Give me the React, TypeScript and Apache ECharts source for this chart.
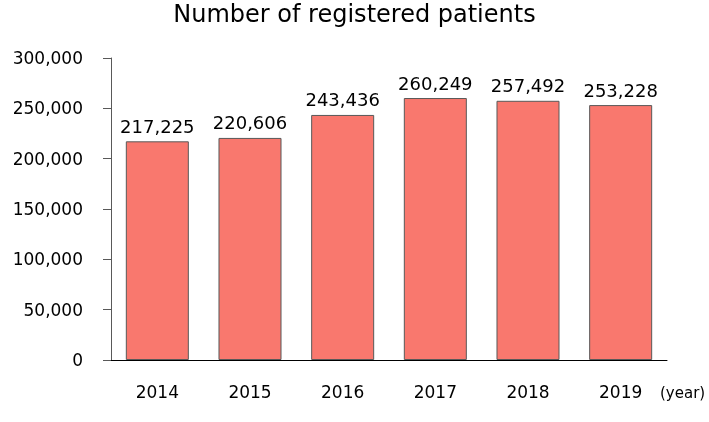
import React, { useEffect, useRef } from "react";
import * as echarts from "echarts";

const years = ["2014", "2015", "2016", "2017", "2018", "2019"];
const patients = [217225, 220606, 243436, 260249, 257492, 253228];
const yTicks = { min: 0, max: 300000, interval: 50000 };

const FONT = "'DejaVu Sans', 'Noto Sans', sans-serif";

export default function App() {
  const ref = useRef<HTMLDivElement>(null);
  useEffect(() => {
    const chart = echarts.init(ref.current!, null, { renderer: "svg" });
    chart.setOption({
      animation: false,
      textStyle: { fontFamily: FONT },
      title: {
        text: "Number of registered patients",
        left: "center",
        top: 2,
        padding: [0, 5, 0, 5],
        textStyle: { fontFamily: FONT, fontSize: 24, lineHeight: 24, fontWeight: "normal", color: "#000" },
      },
      grid: { left: 111, right: 42, top: 58, bottom: 62 },
      xAxis: {
        type: "category",
        data: years,
        axisLine: { lineStyle: { color: "#000", width: 1 } },
        axisTick: { show: false },
        axisLabel: { color: "#000", fontSize: 17, margin: 23, fontFamily: FONT },
        name: "(year)",
        nameLocation: "end",
        nameGap: -7,
        nameTextStyle: { color: "#000", fontSize: 15, fontFamily: FONT, padding: [25, 0, 0, 0], align: "left", verticalAlign: "top" },
      },
      yAxis: {
        type: "value",
        min: yTicks.min,
        max: yTicks.max,
        interval: yTicks.interval,
        axisLine: { show: true, lineStyle: { color: "#595959", width: 1 } },
        axisTick: { show: true, length: 8, lineStyle: { color: "#595959" } },
        splitLine: { show: false },
        axisLabel: {
          color: "#000",
          fontSize: 17,
          margin: 28,
          fontFamily: FONT,
          formatter: (v: number) => v.toLocaleString("en-US"),
        },
      },
      series: [
        {
          type: "bar",
          data: patients,
          barWidth: "68%",
          itemStyle: { color: "#F9786E", borderColor: "#595959", borderWidth: 1 },
          label: {
            show: true,
            position: "top",
            distance: 6,
            color: "#000",
            fontSize: 18,
            fontFamily: FONT,
            formatter: (p: any) => Number(p.value).toLocaleString("en-US"),
          },
        },
      ],
    });
    return () => chart.dispose();
  }, []);
  return <div ref={ref} style={{ width: 709, height: 422, position: "fixed", left: 0, top: 0 }} />;
}
